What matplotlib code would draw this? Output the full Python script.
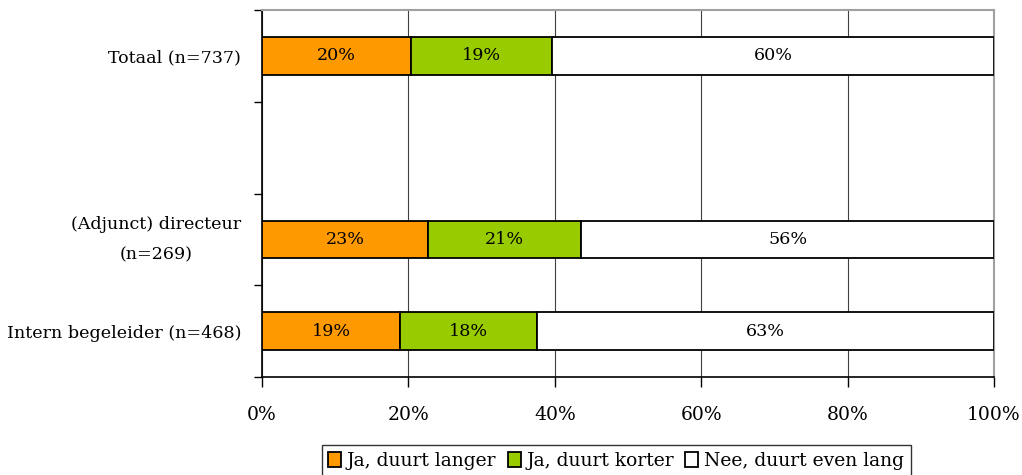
import matplotlib
matplotlib.use("Agg")
import matplotlib.pyplot as plt
import numpy as np

categories = ["Totaal (n=737)", "", "(Adjunct) directeur\n(n=269)", "Intern begeleider (n=468)"]
series_names = ["Ja, duurt langer", "Ja, duurt korter", "Nee, duurt even lang"]
langer = [20.4, None, 22.7, 18.9]
korter = [19.2, None, 20.9, 18.6]
even = [60.4, None, 56.4, 62.5]
labels_langer = ["20%", None, "23%", "19%"]
labels_korter = ["19%", None, "21%", "18%"]
labels_even = ["60%", None, "56%", "63%"]
colors = ["#FF9900", "#99CC00", "#FFFFFF"]
xticks = [0, 20, 40, 60, 80, 100]
xticklabels = ["0%", "20%", "40%", "60%", "80%", "100%"]

plt.rcParams['font.family'] = ['DejaVu Serif']
FS = 13.5
FS_Y = 12.6
FS_BAR = 12.6

fig = plt.figure(figsize=(10.22, 4.75), dpi=100)
ax = fig.add_axes([262/1022, 1 - 377/475, (994-262)/1022, (377-10)/475])

ypos = np.arange(len(categories))
series = [langer, korter, even]
lbls = [labels_langer, labels_korter, labels_even]
left = np.zeros(len(categories))
for s, (vals, lab, col, name) in enumerate(zip(series, lbls, colors, series_names)):
    idx = [i for i, v in enumerate(vals) if v is not None]
    v = np.array([vals[i] for i in idx])
    bars = ax.barh(ypos[idx], v, left=left[idx], height=0.41, color=col,
                   edgecolor="black", linewidth=1.3, label=name, zorder=3)
    for b, i in zip(bars, idx):
        ax.text(b.get_x() + b.get_width()/2, b.get_y() + b.get_height()/2, lab[i],
                ha="center", va="center", fontsize=FS_BAR, zorder=4)
    for j, i in enumerate(idx):
        left[i] += v[j]

ax.set_xlim(0, 100)
ax.set_ylim(3.5, -0.5)
ax.set_xticks(xticks)
ax.set_xticklabels(xticklabels, fontsize=FS)
ax.set_yticks(ypos)
ax.set_yticklabels(categories, fontsize=FS_Y, multialignment="center", linespacing=2.0)
for t in ax.get_yticklabels():
    if "\n" in t.get_text():
        t.set_va("center")
ax.set_yticks(np.arange(-0.5, len(categories)), minor=True)
ax.tick_params(axis="y", which="major", length=0, pad=15)
ax.tick_params(axis="y", which="minor", length=6, width=1, direction="out")
ax.tick_params(axis="x", which="major", length=7, width=1, direction="out", pad=14)
ax.xaxis.grid(True, color="#404040", linewidth=0.8, zorder=0)
ax.set_axisbelow(True)
for sp in ["top", "right"]:
    ax.spines[sp].set_color("#a0a0a0")
    ax.spines[sp].set_linewidth(1.5)
for sp in ["left", "bottom"]:
    ax.spines[sp].set_color("black")
    ax.spines[sp].set_linewidth(1.2)

leg = fig.legend(loc="center", bbox_to_anchor=(616/1022, 1 - 461/475), ncol=3,
                 fontsize=FS, frameon=True, fancybox=False, edgecolor="black",
                 handlelength=0.7, handleheight=0.9, handletextpad=0.3,
                 columnspacing=0.6, borderpad=0.35, borderaxespad=0)
leg.get_frame().set_linewidth(1.0)

fig.savefig("out.png", dpi=100)
